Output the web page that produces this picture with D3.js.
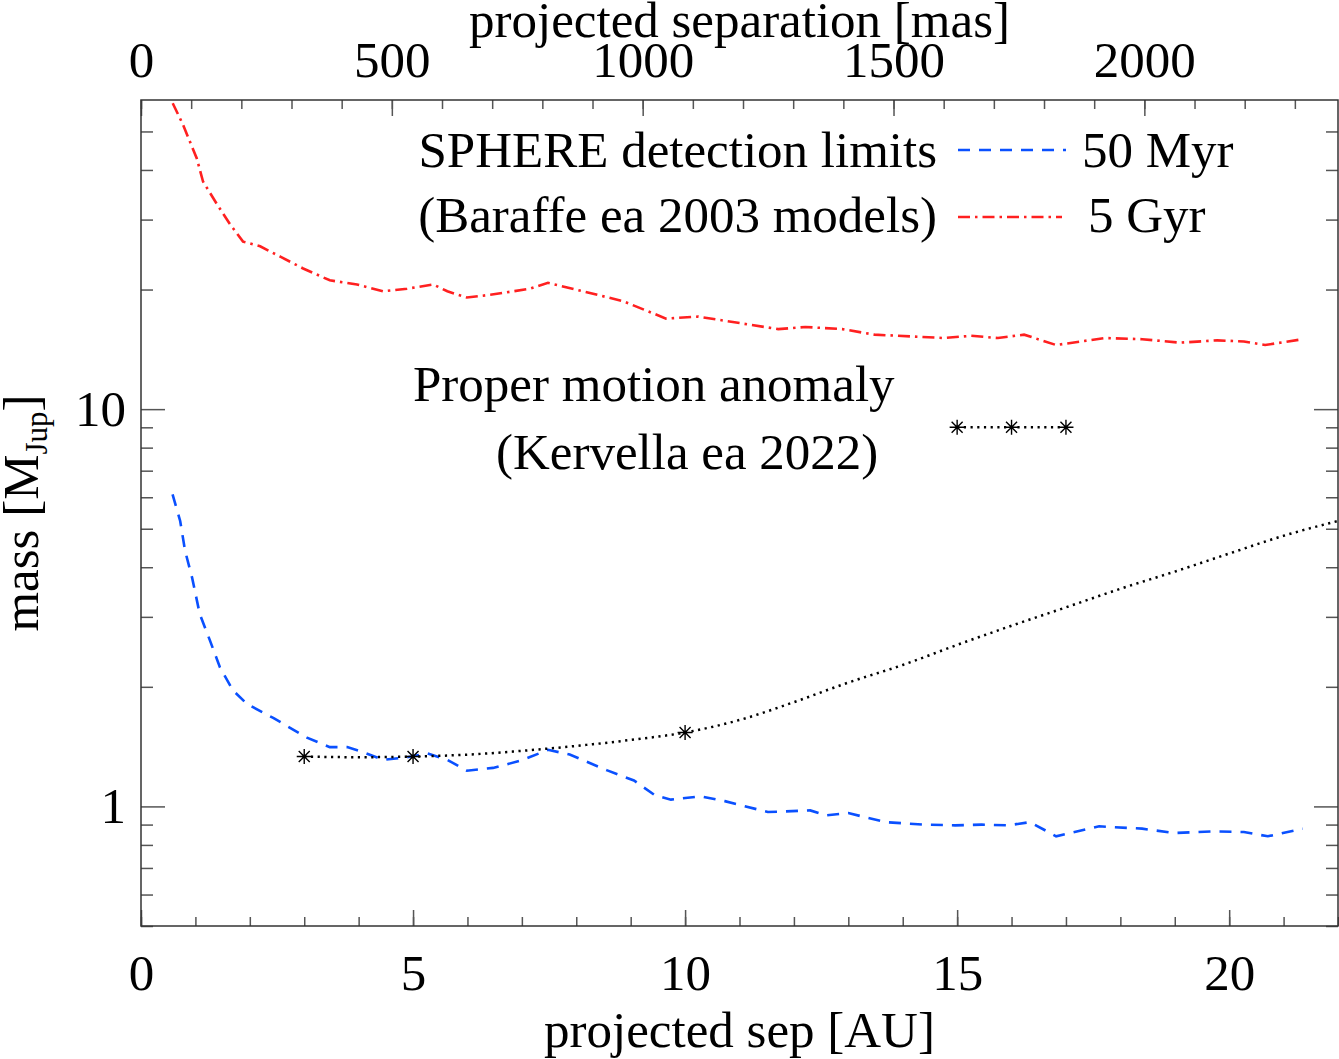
<!DOCTYPE html>
<html>
<head>
  <title>SPHERE detection limits</title>
  <script src="https://d3js.org/d3.v7.min.js"></script>
  <style>
    body { margin: 0; background: #fff; }
    text { font-family: "Liberation Serif", "Times New Roman", serif; fill: #000; }
  </style>
</head>
<body>
<script type="text/javascript">
  var w = 1339;
  var h = 1059;
  var pLeft = 141, pRight = 1338, pTop = 100, pBottom = 926;
  var fontSize = 51;

  // 50 Myr detection limit (blue dashed)
  var au50 = [0.58, 0.72, 0.81, 0.94, 1.08, 1.27, 1.45, 1.69, 1.95, 2.43, 3.05, 3.47, 3.79, 4.08, 4.45,
    4.89, 5.26, 5.63, 5.99, 6.47, 6.99, 7.48, 7.88, 8.57, 9.06, 9.45, 9.74, 10.29, 10.73, 11.52,
    12.3, 12.59, 13.0, 13.68, 14.37, 14.96, 15.45, 15.94, 16.34, 16.82, 17.61, 18.4, 18.99, 19.68,
    20.27, 20.71, 21.35];
  var mass50 = [6.1, 5.23, 4.4, 3.76, 3.05, 2.61, 2.24, 1.96, 1.81, 1.67, 1.49, 1.41, 1.41, 1.37, 1.31,
    1.33, 1.36, 1.31, 1.23, 1.25, 1.305, 1.388, 1.351, 1.232, 1.162, 1.066, 1.04, 1.06, 1.031, 0.968,
    0.977, 0.949, 0.962, 0.913, 0.90, 0.896, 0.90, 0.896, 0.913, 0.841, 0.891, 0.879, 0.857, 0.865,
    0.862, 0.841, 0.879];

  // 5 Gyr detection limit (red dash-dot)
  var au5g = [0.583, 0.772, 1.024, 1.14, 1.39, 1.636, 1.875, 2.19, 2.56, 2.98, 3.47, 3.97, 4.45, 4.89,
    5.37, 5.63, 5.99, 6.42, 7.15, 7.48, 8.86, 9.65, 10.24, 11.71, 12.21, 12.89, 13.48, 14.76, 15.26,
    15.75, 16.23, 16.82, 17.71, 18.4, 19.09, 19.78, 20.27, 20.66, 21.35];
  var mass5g = [58.9, 52.0, 42.8, 37.4, 32.9, 29.2, 26.4, 25.7, 24.2, 22.6, 21.1, 20.6, 19.8, 20.1,
    20.6, 19.8, 19.1, 19.4, 20.1, 20.8, 18.7, 16.9, 17.1, 15.9, 16.1, 15.9, 15.4, 15.1, 15.3,
    15.1, 15.4, 14.5, 15.1, 15.0, 14.7, 14.9, 14.8, 14.5, 15.0];

  // proper motion anomaly sensitivity (black dotted)
  var auPma = [3, 4, 5, 6, 7, 8, 9, 10, 11, 12, 13, 14, 15, 16, 17, 18, 19, 20, 21, 22];
  var massPma = [1.335, 1.33, 1.335, 1.35, 1.38, 1.42, 1.47, 1.535, 1.65, 1.83, 2.05, 2.27, 2.55,
    2.85, 3.17, 3.53, 3.9, 4.33, 4.8, 5.23];
  var auStars = [3, 5, 10];
  var massStars = [1.335, 1.335, 1.535];

  var auStars2 = [15, 16, 17];
  var massStars2 = [9.0, 9.0, 9.0];

  var xMajor = [0, 5, 10, 15, 20];
  var xMinor = d3.range(0, 23, 1);
  var masMajor = [0, 500, 1000, 1500, 2000];
  var masMinor = d3.range(0, 2400, 100);
  var yMajor = [1, 10];
  var yMinor = [0.5, 0.6, 0.7, 0.8, 0.9, 2, 3, 4, 5, 6, 7, 8, 9, 20, 30, 40, 50];

  var svg = d3.select("body").append("svg")
    .attr("width", w)
    .attr("height", h);

  var x = d3.scaleLinear().domain([0, 22]).range([pLeft, pRight]);
  var xm = d3.scaleLinear().domain([0, 2386]).range([pLeft, pRight]);
  var y = d3.scaleLog().domain([0.5, 60]).range([pBottom, pTop]);

  svg.append("defs").append("clipPath").attr("id", "plot")
    .append("rect")
    .attr("x", pLeft).attr("y", pTop)
    .attr("width", pRight - pLeft).attr("height", pBottom - pTop);

  function styleAxis(g) {
    g.select(".domain").remove();
    g.selectAll(".tick line").attr("stroke", "#555").attr("stroke-width", 1.5);
    g.selectAll(".tick text")
      .style("font-family", "Liberation Serif, serif")
      .style("font-size", fontSize + "px")
      .attr("fill", "#000");
  }

  // bottom axis
  svg.append("g").attr("transform", "translate(0," + pBottom + ")")
    .call(d3.axisBottom(x).tickValues(xMinor).tickSize(-9).tickFormat(""))
    .call(styleAxis);
  svg.append("g").attr("transform", "translate(0," + pBottom + ")")
    .call(d3.axisBottom(x).tickValues(xMajor).tickSize(-16).tickPadding(28).tickFormat(d3.format("d")))
    .call(styleAxis);

  // top axis (mas)
  svg.append("g").attr("transform", "translate(0," + pTop + ")")
    .call(d3.axisTop(xm).tickValues(masMinor).tickSize(-9).tickFormat(""))
    .call(styleAxis);
  svg.append("g").attr("transform", "translate(0," + pTop + ")")
    .call(d3.axisTop(xm).tickValues(masMajor).tickSize(-16).tickPadding(23).tickFormat(d3.format("d")))
    .call(styleAxis);

  // left axis
  svg.append("g").attr("transform", "translate(" + pLeft + ",0)")
    .call(d3.axisLeft(y).tickValues(yMinor).tickSize(-12).tickFormat(""))
    .call(styleAxis);
  svg.append("g").attr("transform", "translate(" + pLeft + ",0)")
    .call(d3.axisLeft(y).tickValues(yMajor).tickSize(-24).tickPadding(15).tickFormat(function(d){ return d; }))
    .call(styleAxis);

  // right axis
  svg.append("g").attr("transform", "translate(" + pRight + ",0)")
    .call(d3.axisRight(y).tickValues(yMinor).tickSize(-12).tickFormat(""))
    .call(styleAxis);
  svg.append("g").attr("transform", "translate(" + pRight + ",0)")
    .call(d3.axisRight(y).tickValues(yMajor).tickSize(-24).tickFormat(""))
    .call(styleAxis);

  svg.append("rect")
    .attr("x", pLeft).attr("y", pTop)
    .attr("width", pRight - pLeft).attr("height", pBottom - pTop)
    .attr("fill", "none").attr("stroke", "#333").attr("stroke-width", 1.5);

  var plot = svg.append("g").attr("clip-path", "url(#plot)");

  function pairs(xs, ys) {
    return xs.map(function(d, i){ return [d, ys[i]]; });
  }

  var line = d3.line()
    .x(function(d){ return x(d[0]); })
    .y(function(d){ return y(d[1]); });

  plot.append("path")
    .attr("d", line(pairs(au5g, mass5g)))
    .attr("fill", "none").attr("stroke", "#ff2020").attr("stroke-width", 2.6)
    .attr("stroke-dasharray", "12,5,2.5,5");

  plot.append("path")
    .attr("d", line(pairs(au50, mass50)))
    .attr("fill", "none").attr("stroke", "#0a50ff").attr("stroke-width", 2.6)
    .attr("stroke-dasharray", "12,9");

  var smooth = d3.line()
    .x(function(d){ return x(d[0]); })
    .y(function(d){ return y(d[1]); })
    .curve(d3.curveMonotoneX);

  plot.append("path")
    .attr("d", smooth(pairs(auPma, massPma)))
    .attr("fill", "none").attr("stroke", "#000").attr("stroke-width", 2.5)
    .attr("stroke-dasharray", "2.2,4.5");

  plot.append("path")
    .attr("d", line(pairs(auStars2, massStars2)))
    .attr("fill", "none").attr("stroke", "#000").attr("stroke-width", 2.5)
    .attr("stroke-dasharray", "2.2,4.5");

  var starPath = "M-7.5,0L7.5,0M0,-7.5L0,7.5M-5.5,-5.5L5.5,5.5M-5.5,5.5L5.5,-5.5";
  plot.selectAll("path.star")
    .data(pairs(auStars, massStars).concat(pairs(auStars2, massStars2)))
    .enter()
    .append("path")
    .attr("class", "star")
    .attr("d", starPath)
    .attr("transform", function(d){ return "translate(" + x(d[0]) + "," + y(d[1]) + ")"; })
    .attr("stroke", "#000").attr("stroke-width", 1.4).attr("fill", "none");

  // legend and notes
  function label(tx, ty, str, anchor) {
    return svg.append("text")
      .attr("x", tx).attr("y", ty)
      .attr("text-anchor", anchor || "start")
      .style("font-size", fontSize + "px")
      .text(str);
  }

  label(937, 167, "SPHERE detection limits", "end");
  label(937, 232, "(Baraffe ea 2003 models)", "end");
  label(1082, 167, "50 Myr");
  label(1088, 232, "5 Gyr");

  svg.append("line")
    .attr("x1", 958).attr("x2", 1066).attr("y1", 150).attr("y2", 150)
    .attr("stroke", "#0a50ff").attr("stroke-width", 2.6).attr("stroke-dasharray", "12,9");
  svg.append("line")
    .attr("x1", 958).attr("x2", 1062).attr("y1", 217).attr("y2", 217)
    .attr("stroke", "#ff2020").attr("stroke-width", 2.6).attr("stroke-dasharray", "12,5,2.5,5");

  label(413, 401, "Proper motion anomaly");
  label(496, 469, "(Kervella ea 2022)");

  // axis titles
  label((pLeft + pRight) / 2, 37, "projected separation [mas]", "middle");
  label((pLeft + pRight) / 2, 1047, "projected sep [AU]", "middle");

  var yl = svg.append("text")
    .attr("transform", "translate(38," + ((pTop + pBottom) / 2) + ") rotate(-90)")
    .attr("text-anchor", "middle")
    .style("font-size", fontSize + "px");
  yl.append("tspan").text("mass [M");
  yl.append("tspan").attr("dy", 9).style("font-size", "31px").text("Jup");
  yl.append("tspan").attr("dy", -9).text("]");
</script>
</body>
</html>
